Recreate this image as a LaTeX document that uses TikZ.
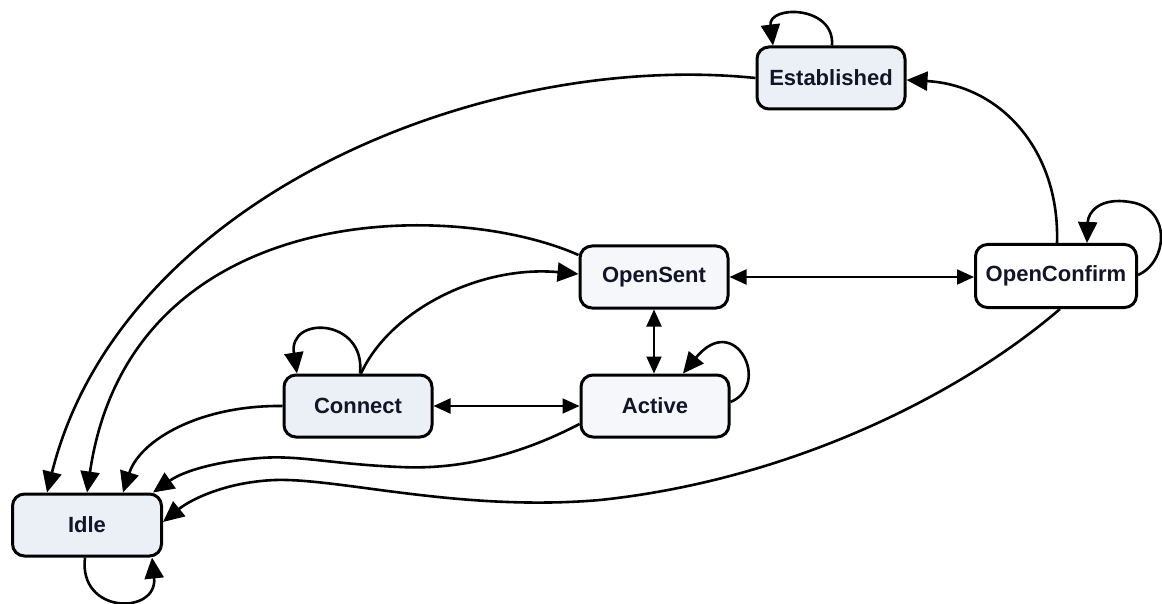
\documentclass[tikz,border=0pt]{standalone}
\usepackage{fontspec}
\setmainfont{Liberation Sans}
\usetikzlibrary{arrows.meta,calc}
\definecolor{boxfill}{HTML}{EBEFF6}
\definecolor{boxfilltwo}{HTML}{F5F7FB}
\definecolor{ink}{HTML}{141428}
\begin{document}
\begin{tikzpicture}[x=1pt,y=-1pt,
  state/.style={draw=black, line width=3pt, rounded corners=12pt,
    minimum width=148pt, minimum height=62pt, inner sep=0pt,
    font=\fontsize{22}{26}\selectfont\bfseries, text=ink, fill=boxfill},
  conn/.style={line width=2.6pt, -{Triangle[length=21pt,width=19pt]}},
  both/.style={line width=2pt, {Triangle[length=17pt,width=15pt]}-{Triangle[length=17pt,width=15pt]}}]
\path[fill=white] (0,0) rectangle (1162,604);
\useasboundingbox (0,0) rectangle (1162,604);

% states
\node[state] (est) at (831,78) {Established};
\node[state, fill=boxfilltwo] (os) at (654,277) {OpenSent};
\node[state, fill=white, minimum width=161pt, minimum height=63pt] (oc) at (1056,276) {OpenConfirm};
\node[state] (con) at (358,406) {Connect};
\node[state, fill=boxfilltwo] (act) at (655,406) {Active};
\node[state, minimum width=149pt] (idle) at (87,525) {Idle};

% transitions to Idle
\draw[conn] (est.west) .. controls (480,50) and (120,200) .. ($(idle.north)+(-40,0)$);
\draw[conn] ($(os.west)+(0,-22)$) .. controls (450,198) and (130,200) .. (idle.north);
\draw[conn] (con.west) .. controls (200,405) and (140,440) .. ($(idle.north)+(36,0)$);
\draw[conn] ($(act.west)+(0,18)$) .. controls (520,455) and (460,470) .. (400,467)
   .. controls (330,464) and (300,455) .. (260,458)
   .. controls (220,461) and (185,470) .. ($(idle.north east)+(-10,0)$);
\draw[conn] ($(oc.south)+(4,0)$) .. controls (960,395) and (790,480) .. (600,500)
   .. controls (460,512) and (340,478) .. (275,480)
   .. controls (225,482) and (190,500) .. ($(idle.east)+(0,-3)$);

% other transitions
\draw[conn] ($(con.north)+(3,0)$) .. controls (390,310) and (480,265) .. ($(os.west)+(0,-3)$);
\draw[both] (con.east) -- (act.west);
\draw[both] (os.south) -- (os.south |- act.north);
\draw[both] (os.east) -- (os.east -| oc.west);
\draw[conn] ($(oc.north)+(1,0)$) .. controls (1060,150) and (1000,85) .. ($(est.east)+(0,2)$);

% self loops
\draw[conn] ($(est.north)+(1,0)$) .. controls (835,5) and (768,5) .. ($(est.north)+(-58,0)$);
\draw[conn] ($(idle.south)+(-2,0)$) .. controls (78,615) and (158,615) .. ($(idle.south)+(65,0)$);
\draw[conn] ($(con.north)+(2,0)$) .. controls (366,318) and (288,315) .. ($(con.north)+(-61,0)$);
\draw[conn] ($(act.east)+(0,-4)$) .. controls (772,385) and (735,310) .. ($(act.north)+(28,0)$);
\draw[conn] ($(oc.east)+(0,-1)$) .. controls (1168,262) and (1172,208) .. (1130,202)
   .. controls (1100,197) and (1088,212) .. ($(oc.north)+(31,0)$);
\end{tikzpicture}
\end{document}
